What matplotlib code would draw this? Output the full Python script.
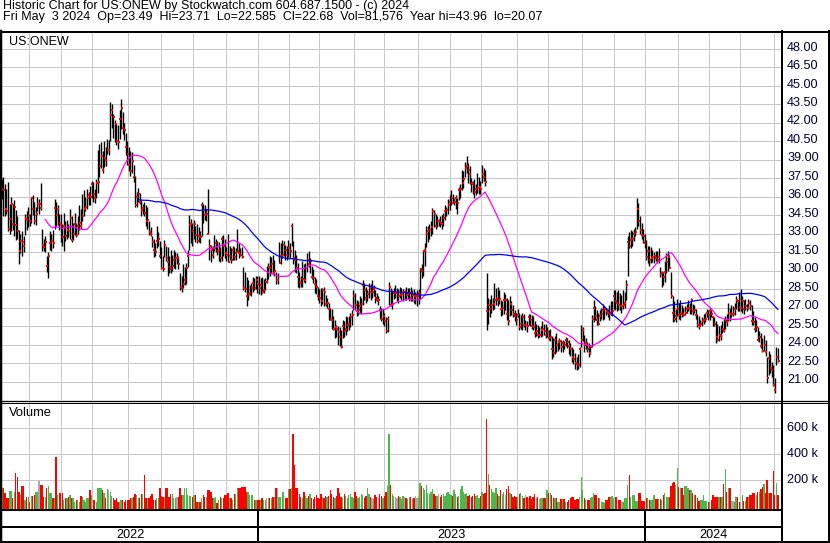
import numpy as np
import pandas as pd
import matplotlib
matplotlib.use("Agg")
import matplotlib.pyplot as plt
from matplotlib.transforms import blended_transform_factory

# ---------------- data ----------------
highs = [
37.6,37.4,37.6,37.0,36.6,37.2,35.4,36.0,35.4,35.7,
34.9,34.4,33.3,33.0,33.2,32.8,34.6,34.8,35.2,34.6,
36.0,36.1,35.6,35.2,36.0,35.8,37.1,33.4,32.6,32.8,
31.2,31.5,33.2,33.0,33.3,35.8,35.6,35.3,34.6,34.6,
33.8,34.7,34.0,34.1,33.8,35.0,34.4,33.9,34.7,33.9,
34.4,35.3,35.0,36.2,36.5,36.0,36.6,36.4,36.9,37.3,
37.2,36.6,37.4,39.8,40.3,40.4,39.7,40.5,40.0,40.7,
40.6,43.7,43.5,42.7,42.2,42.0,41.8,43.0,43.96,42.9,
42.0,41.2,40.5,40.0,39.7,39.6,38.6,37.7,36.4,36.7,
36.3,35.7,35.4,35.6,35.3,35.2,34.0,33.5,32.8,32.6,
32.2,33.6,33.1,32.4,31.9,31.2,32.5,32.0,31.9,31.2,
31.7,31.3,31.7,31.5,31.4,31.2,29.8,29.6,30.5,30.3,
30.6,31.7,34.5,34.2,33.9,34.1,33.6,33.8,33.5,33.2,
35.6,35.4,35.3,35.0,36.6,32.6,32.1,32.0,32.9,32.6,
32.4,32.3,31.9,32.8,32.9,32.6,31.9,33.0,32.0,31.8,
32.0,31.9,31.8,33.4,32.2,31.8,31.9,30.3,29.9,29.5,
29.2,28.8,29.0,29.5,29.4,29.6,29.6,29.6,29.4,29.5,
29.3,29.4,30.4,30.6,31.2,31.1,31.3,30.9,29.9,29.8,
32.3,32.2,32.5,32.4,32.1,32.0,32.5,32.2,33.9,32.4,
31.7,31.3,30.6,29.9,29.6,30.8,30.5,30.6,31.4,31.6,
31.0,30.4,30.1,29.5,29.3,28.7,28.5,28.6,28.6,28.7,
28.0,27.8,27.4,27.0,26.9,26.3,26.0,25.6,25.5,25.4,
25.2,26.0,25.9,26.3,26.2,26.3,26.6,26.8,28.4,28.2,
27.6,27.5,27.9,27.8,29.2,29.0,28.7,28.4,29.0,28.9,
29.2,28.8,28.4,28.2,27.9,27.1,27.0,26.9,26.6,26.2,
26.3,29.1,28.6,28.4,28.6,28.8,28.6,28.5,28.7,28.6,
28.5,28.4,28.7,28.6,28.6,28.7,28.4,28.5,28.3,28.4,
28.5,30.2,30.5,31.7,32.2,33.6,33.6,33.8,34.0,35.1,
34.9,34.6,34.4,34.2,34.4,34.5,34.7,35.3,35.2,35.8,
36.1,36.5,36.2,35.9,36.1,35.9,36.8,37.0,38.2,38.1,
38.8,39.3,38.7,38.5,37.5,37.3,37.4,37.0,37.9,37.6,
37.3,38.6,38.3,38.2,29.8,27.8,27.7,28.0,27.8,29.0,
28.6,28.7,28.4,27.6,27.5,28.3,28.1,27.8,27.6,27.9,
27.5,27.2,26.8,26.6,26.9,26.6,26.4,26.6,26.5,26.0,
25.9,26.5,26.5,26.4,26.3,25.9,25.7,25.6,25.4,25.5,
25.9,25.7,25.7,25.4,25.2,25.3,24.7,24.5,24.7,24.9,
24.4,24.5,24.4,24.4,24.3,24.6,24.5,24.4,24.1,23.8,
23.6,23.3,23.0,23.2,23.8,25.6,25.4,24.8,24.5,24.2,
24.1,24.0,26.4,27.6,27.1,26.8,26.6,26.8,27.0,27.3,
27.1,27.0,26.9,27.2,27.5,27.5,28.4,28.4,28.3,28.4,
28.2,28.0,28.4,28.3,29.2,32.8,33.1,33.3,33.2,33.4,
33.5,35.9,35.5,34.4,33.9,33.4,33.0,32.5,32.0,32.0,
31.9,31.7,31.5,31.6,31.6,31.8,30.3,30.0,29.9,30.8,
31.4,31.6,31.3,29.9,27.9,27.5,26.9,27.7,27.4,27.6,
27.2,27.0,27.1,27.3,27.6,27.4,27.8,27.3,27.2,26.9,
26.5,26.3,26.0,26.2,26.5,26.6,26.9,26.8,27.0,26.8,
26.3,26.2,25.9,25.7,25.5,25.6,25.9,26.1,26.3,26.5,
27.4,27.0,27.2,27.1,27.4,27.9,27.6,28.3,28.5,27.9,
27.6,27.7,27.3,27.7,27.6,27.2,26.7,26.2,26.0,25.4,
25.1,24.9,24.5,24.8,24.4,23.0,23.5,23.2,22.6,22.3,
21.3,23.8,23.71]

lows = [
35.5,35.8,34.4,34.4,34.6,33.2,33.0,33.2,33.3,32.8,
32.5,32.6,30.5,31.4,31.2,31.5,32.9,33.3,33.5,33.6,
33.9,34.5,33.8,33.7,34.8,34.6,34.9,31.6,31.6,31.5,
29.9,29.4,31.7,31.6,31.8,33.4,33.6,33.7,33.3,32.3,
32.0,31.6,32.4,32.6,32.7,32.6,32.3,32.5,32.9,32.7,
33.0,33.3,33.4,34.0,34.4,34.8,35.0,35.3,35.3,35.9,
35.6,35.5,35.9,36.3,37.6,38.3,37.9,38.4,38.5,39.5,
39.4,40.5,41.6,40.8,40.4,40.2,39.9,40.7,41.5,41.1,
40.6,39.4,38.6,38.1,37.7,37.9,37.2,35.2,35.2,35.6,
35.4,34.4,34.6,34.4,33.6,33.4,32.9,32.8,31.9,31.1,
31.2,31.8,32.0,31.0,30.1,30.0,31.1,30.8,29.6,29.8,
29.8,30.0,30.2,30.1,30.5,30.1,28.4,28.3,28.6,28.8,
28.9,30.3,31.7,32.2,32.0,32.6,32.3,32.2,32.3,32.2,
32.8,33.9,34.1,34.0,33.0,30.9,30.7,31.0,31.6,31.5,
31.3,30.8,30.7,30.8,31.2,31.0,30.8,30.7,30.9,30.6,
30.9,30.9,30.9,31.5,31.0,31.2,31.0,28.4,28.3,27.1,
27.6,28.0,27.9,28.3,28.4,28.5,28.2,28.1,28.0,28.2,
28.2,28.4,29.0,29.3,29.6,29.8,29.7,29.6,28.9,28.9,
30.6,30.5,31.0,31.2,30.9,30.9,31.1,31.0,32.0,30.5,
29.9,29.8,28.7,28.6,28.7,28.7,29.1,29.0,29.9,30.3,
29.8,29.3,29.0,28.2,28.1,27.6,27.4,27.1,27.3,27.1,
27.1,27.0,26.0,26.0,25.3,25.2,24.5,24.6,24.0,23.9,
23.7,24.5,24.6,24.8,25.1,25.2,25.4,25.6,26.8,26.9,
26.3,26.4,26.6,26.5,27.2,27.6,27.4,27.5,27.8,27.6,
27.8,27.9,27.4,27.5,27.2,26.1,25.9,25.7,25.5,24.9,
25.0,27.2,27.1,26.9,27.7,27.8,27.5,27.4,27.8,27.6,
27.5,27.6,27.6,27.7,27.5,27.5,27.5,27.4,27.3,27.1,
27.3,27.7,29.4,29.6,30.4,31.9,32.3,32.6,32.8,33.0,
33.5,33.4,33.5,33.6,33.5,33.4,33.6,34.1,34.4,34.6,
34.9,35.3,35.6,35.3,35.0,34.6,35.7,35.9,36.5,36.7,
37.6,37.9,37.1,37.0,36.4,36.2,35.9,36.1,36.3,36.2,
36.2,37.1,37.3,36.9,25.2,25.7,26.2,26.6,26.8,26.9,
27.2,27.1,27.3,26.3,26.4,26.5,26.8,26.0,25.6,26.3,
26.4,26.2,25.9,25.6,26.2,25.2,25.3,25.2,25.4,25.2,
25.0,25.6,25.5,25.3,25.2,24.6,24.7,24.5,24.6,24.6,
24.7,24.8,24.5,24.6,24.4,24.3,22.8,23.0,23.2,23.4,
23.5,23.6,23.4,23.4,23.6,23.9,23.7,23.2,23.1,22.6,
22.4,22.0,21.9,22.0,22.2,23.8,24.3,23.4,23.6,23.4,
23.0,23.2,23.8,25.8,26.0,25.6,25.6,25.9,26.1,26.0,
26.1,26.4,26.2,26.0,26.4,26.3,26.9,26.8,26.7,26.8,
26.8,26.6,26.9,27.0,27.6,29.6,31.8,31.8,32.0,32.4,
32.8,33.4,33.6,33.0,32.6,32.2,31.8,30.9,30.6,30.4,
30.6,30.7,30.6,30.8,30.6,30.6,29.5,28.7,28.8,29.1,
29.8,30.0,30.2,27.8,25.8,25.9,25.8,26.3,26.1,26.0,
26.2,26.3,26.4,26.6,26.7,26.5,26.5,26.4,26.6,26.1,
25.4,25.3,25.6,25.5,25.7,25.8,26.2,26.0,26.0,26.2,
25.5,25.5,24.1,24.3,24.3,24.4,24.9,25.0,25.3,25.5,
25.9,25.9,26.2,26.3,26.4,26.9,26.7,26.7,26.7,26.6,
26.5,26.8,26.7,26.9,26.8,25.6,25.6,25.0,25.1,24.3,
24.2,23.7,23.4,23.5,23.1,20.9,21.5,21.7,21.4,20.6,
20.07,22.3,22.585]

closes = [
36.2,36.6,36.5,35.0,34.8,33.4,34.2,35.4,33.8,35.2,
33.7,33.2,31.6,32.4,32.3,32.0,34.2,34.1,34.4,34.0,
35.9,35.0,34.0,34.6,35.4,35.4,35.1,32.1,31.9,32.3,
30.4,31.2,32.2,32.4,32.2,35.1,34.5,35.0,33.9,33.7,
32.7,33.6,32.8,33.3,33.2,34.3,32.5,33.0,33.8,32.9,
33.6,33.9,33.6,34.4,35.0,35.2,35.9,36.1,36.0,37.0,
36.2,35.9,37.1,37.2,38.5,39.3,38.2,39.1,39.0,39.8,
39.8,42.6,43.0,42.5,41.9,40.5,40.4,42.3,43.2,41.6,
41.4,40.0,39.5,38.6,38.1,38.9,37.6,35.3,36.0,36.2,
35.6,34.9,35.1,34.7,34.0,34.1,33.1,33.0,32.3,31.7,
31.5,32.4,32.6,31.2,30.2,30.1,32.1,31.0,30.7,30.3,
30.1,30.4,30.9,31.0,31.0,30.5,28.7,28.6,28.9,29.2,
30.2,31.2,33.7,33.8,33.2,33.8,32.9,32.4,32.8,32.7,
35.3,34.9,34.5,34.6,33.0,32.0,31.7,31.3,31.8,32.2,
31.6,31.7,31.0,32.6,32.0,31.4,31.3,30.7,31.2,30.9,
31.7,31.1,31.4,31.6,31.4,31.3,31.1,28.6,28.5,27.9,
28.1,28.2,28.6,29.0,28.6,29.2,28.9,28.6,28.8,28.3,
28.4,29.1,29.1,30.3,30.2,30.5,29.8,30.0,29.2,29.2,
30.6,31.2,31.3,32.1,31.7,31.3,31.8,31.6,33.6,31.0,
30.9,30.2,29.5,29.1,29.0,29.3,29.2,30.2,30.9,30.5,
30.8,29.5,29.4,28.9,28.7,27.9,27.8,27.5,28.4,28.3,
27.3,27.4,26.9,26.1,26.0,25.3,25.4,25.3,25.0,24.6,
23.8,25.5,25.1,25.3,25.6,25.7,26.2,26.4,27.9,27.2,
26.7,26.8,27.1,27.3,28.8,28.4,27.8,28.1,28.6,28.3,
28.3,28.5,27.8,27.6,27.6,26.8,26.1,26.3,25.9,25.1,
26.1,28.7,27.2,27.3,28.2,28.2,28.2,27.9,28.0,28.1,
28.3,28.3,28.0,28.1,28.2,27.8,28.0,27.9,27.9,27.9,
28.2,30.1,30.0,31.6,31.7,33.0,33.2,33.3,33.5,34.8,
34.6,33.6,34.0,34.0,33.9,33.8,34.3,34.8,34.9,35.3,
35.6,35.9,35.5,35.6,35.9,35.5,36.5,36.6,37.1,37.4,
38.3,38.5,38.2,37.8,37.1,37.0,36.4,36.6,36.7,36.8,
36.6,37.8,37.6,37.2,26.7,27.2,26.9,27.2,27.3,27.6,
27.7,27.6,27.7,26.9,27.0,27.6,27.6,26.5,25.9,27.3,
26.8,26.5,26.3,26.0,26.4,25.4,25.7,26.2,25.6,25.6,
25.5,26.2,26.0,25.5,25.4,24.9,25.1,24.8,24.8,25.2,
25.3,25.1,24.8,25.0,24.5,24.6,23.6,23.3,24.4,24.0,
24.2,24.3,23.8,24.1,24.0,24.4,24.2,23.9,23.6,23.0,
22.8,22.5,22.4,22.3,23.6,24.4,25.2,24.0,24.1,23.6,
23.3,23.8,26.1,27.0,26.3,26.0,25.7,26.3,26.5,26.8,
26.9,26.7,26.6,26.5,26.6,26.7,27.9,27.5,27.4,27.2,
27.1,27.1,27.2,27.4,28.8,32.3,32.0,32.5,32.6,33.0,
33.1,35.0,34.0,33.3,32.9,32.8,32.2,31.1,31.6,30.9,
31.0,31.1,31.2,31.0,30.9,31.1,29.7,29.8,29.5,29.9,
30.7,31.1,30.2,27.9,26.6,26.1,26.3,26.9,26.4,26.6,
26.5,26.4,26.6,26.9,27.0,26.9,27.6,26.7,26.8,26.4,
25.6,25.5,25.7,25.9,26.0,26.1,26.6,26.4,26.7,26.5,
26.2,25.7,24.6,24.4,24.8,24.7,25.3,25.1,26.0,25.8,
26.6,26.5,26.5,26.5,26.9,27.6,27.5,27.0,27.0,27.5,
26.9,27.1,27.0,27.4,27.1,25.9,25.8,25.3,25.4,24.4,
24.6,23.9,23.5,24.0,23.4,21.3,22.9,22.1,21.9,20.7,
20.3,23.0,22.68]

volumes_k = [
140,140,140,96,58,58,115,115,58,110,
255,224,110,83,150,150,45,70,70,32,
80,80,85,109,109,190,165,165,70,70,
140,155,100,100,58,58,378,83,96,96,
96,45,58,58,70,83,58,58,32,45,
45,32,75,70,45,32,58,58,120,83,
45,45,32,135,140,140,122,100,58,130,
122,110,80,58,45,58,32,32,45,45,
32,45,45,45,58,58,70,93,83,58,
58,90,90,240,58,58,58,78,93,45,
45,58,58,135,80,70,70,135,135,65,
90,90,58,58,65,65,135,83,83,140,
140,83,78,78,70,83,83,32,32,32,
60,83,70,70,125,125,110,58,58,70,
20,45,70,58,58,83,83,103,58,58,
45,90,90,135,135,135,145,145,148,110,
110,83,83,83,45,45,45,45,45,58,
45,45,58,58,58,58,70,70,135,135,
65,65,109,109,58,58,128,128,140,558,
314,135,135,90,70,60,110,80,60,75,
95,60,50,70,85,60,55,90,70,60,
80,65,75,120,90,70,60,80,140,100,
70,60,90,75,60,85,95,70,60,110,
80,60,70,95,85,60,75,140,90,70,
60,55,85,70,65,90,75,60,80,110,
150,558,160,90,80,70,60,75,65,55,
80,70,60,50,70,65,55,60,75,60,
70,180,150,140,120,160,100,90,110,130,
95,80,75,90,70,85,95,80,100,110,
90,85,80,120,95,70,80,130,150,110,
90,100,80,85,70,75,90,80,85,60,
75,110,95,100,673,250,160,130,110,100,
140,90,80,120,95,110,85,130,150,100,
90,70,80,65,70,90,100,75,60,85,
70,60,75,50,65,90,60,70,55,58,
58,58,58,122,96,96,83,58,58,58,
32,32,50,50,50,32,32,45,58,65,
65,45,50,50,65,224,122,60,45,45,
45,58,65,96,83,83,58,58,32,32,
20,45,45,70,70,75,58,70,70,45,
45,32,32,58,60,160,242,70,83,83,
38,38,100,100,38,38,38,58,58,45,
45,45,83,50,50,50,50,45,83,96,
70,70,70,153,177,183,160,296,145,135,
135,83,150,150,140,122,122,96,83,83,
58,40,45,45,83,40,40,32,32,45,
83,70,70,70,70,70,70,170,285,109,
135,135,40,40,32,70,70,32,32,83,
40,40,70,70,86,86,96,96,83,109,
109,130,148,168,96,200,96,102,100,270,
85,180,82]

price_ticks = [21.0, 22.5, 24.0, 25.5, 27.0, 28.5, 30.0, 31.5, 33.0, 34.5,
               36.0, 37.5, 39.0, 40.5, 42.0, 43.5, 45.0, 46.5, 48.0]
volume_ticks_k = [200, 400, 600]
ma_fast, ma_slow = 30, 90

title_line1 = "Historic Chart for US:ONEW by Stockwatch.com 604.687.1500 - (c) 2024"
title_line2 = ("Fri May  3 2024  Op=23.49  Hi=23.71  Lo=22.585  Cl=22.68  "
               "Vol=81,576  Year hi=43.96  lo=20.07")
symbol_label = "US:ONEW"
volume_label = "Volume"

nyse_holidays = ["2022-05-30", "2022-06-20", "2022-07-04", "2022-09-05", "2022-11-24",
                 "2022-12-26", "2023-01-02", "2023-01-16", "2023-02-20", "2023-04-07",
                 "2023-05-29", "2023-06-19", "2023-07-04", "2023-09-04", "2023-11-23",
                 "2023-12-25", "2024-01-01", "2024-01-15", "2024-02-19", "2024-03-29"]

# ---------------- preparation ----------------
n = min(len(highs), len(lows), len(closes), len(volumes_k))
highs, lows, closes, volumes_k = (np.array(a[:n], float) for a in (highs, lows, closes, volumes_k))
idx = np.arange(n)
dates = pd.bdate_range(end="2024-05-03", periods=n, freq="C", holidays=nyse_holidays)
cs = pd.Series(closes)
sma_fast = cs.rolling(ma_fast).mean().values
sma_slow = cs.rolling(ma_slow).mean().values

diff = np.diff(closes, prepend=closes[0])
vcol = np.where(diff > 0, "#4cb84c", np.where(diff < 0, "#ff0000", "#a8a8a8"))

month_start = [i for i in range(1, n) if dates[i].month != dates[i - 1].month]
year_start = [i for i in range(1, n) if dates[i].year != dates[i - 1].year]

# ---------------- figure ----------------
W, H = 830, 543
plt.rcParams["font.family"] = ["Liberation Sans", "DejaVu Sans"]
fig = plt.figure(figsize=(W / 100, H / 100), dpi=100)
fig.patch.set_facecolor("white")

def add_px_axes(x0, y0, x1, y1):
    return fig.add_axes([x0 / W, 1 - y1 / H, (x1 - x0) / W, (y1 - y0) / H])

XL = (1.1, 504.0)
grid_c = "#c8c8c8"
px = 0.72  # one pixel in points
FS_HEAD = 9.0
FS_LAB = 9.1

ax_p = add_px_axes(2, 33, 781, 400)
ax_v = add_px_axes(2, 402, 781, 509.5)
ax_d = add_px_axes(2, 509.5, 781, 541.5)
for a in (ax_p, ax_v, ax_d):
    a.set_xlim(*XL)
    a.set_xticks([]); a.set_yticks([])
    for s in a.spines.values():
        s.set_visible(False)
    a.patch.set_alpha(0)

# price panel
ax_p.set_ylim(19.5, 49.28)
for p in price_ticks:
    ax_p.axhline(p, color=grid_c, lw=px, zorder=0)
for m in month_start:
    ax_p.axvline(m - 0.5, color=grid_c, lw=px, zorder=0)
ax_p.vlines(idx, lows, highs, color="black", lw=1.0, zorder=2)
ax_p.scatter(idx + 0.4, closes, marker="s", s=2.0, color="red", lw=0, zorder=3)
ax_p.plot(idx, sma_fast, color="#ff00ff", lw=0.9, zorder=4)
ax_p.plot(idx, sma_slow, color="#0000ff", lw=0.9, zorder=4)

tr_p = blended_transform_factory(ax_p.transAxes, ax_p.transData)
for p in price_ticks:
    ax_p.text(1 + 6 / 779, p + 0.1, f"{p:.2f}", transform=tr_p, ha="left", va="center",
              fontsize=FS_LAB, color="#000033", clip_on=False)
ax_p.text(7 / 779, 1 - 3 / 367, symbol_label, transform=ax_p.transAxes, ha="left",
          va="top", fontsize=FS_HEAD, color="black")

# volume panel
vb = -28.0
ax_v.set_ylim(vb, 803.5)
for v in volume_ticks_k:
    ax_v.axhline(v, color=grid_c, lw=px, zorder=0)
for m in month_start:
    ax_v.axvline(m - 0.5, color=grid_c, lw=px, zorder=0)
ax_v.bar(idx, volumes_k - vb, bottom=vb, width=0.85, color=vcol, lw=0, zorder=2)
tr_v = blended_transform_factory(ax_v.transAxes, ax_v.transData)
for v in volume_ticks_k:
    ax_v.text(1 + 6 / 779, v, f"{v} k", transform=tr_v, ha="left", va="center",
              fontsize=FS_LAB, color="#000033", clip_on=False)
ax_v.text(7 / 779, 1 - 4.5 / 107.5, volume_label, transform=ax_v.transAxes, ha="left",
          va="top", fontsize=FS_HEAD + 0.3, color="black")

# date strips
ax_d.set_ylim(541.5, 509.5)
ax_d.axhline(526.5, color="black", lw=2 * px)
bounds = [XL[0]] + [y - 0.5 for y in year_start] + [XL[1]]
for b in year_start:
    ax_d.axvline(b - 0.5, color="black", lw=2 * px)
for k in range(len(bounds) - 1):
    yr = dates[0].year + k
    ax_d.text((bounds[k] + bounds[k + 1]) / 2, 534.5, str(yr), ha="center",
              va="center", fontsize=FS_LAB, color="black")

# overlay in pixel coordinates: header and frame
ov = fig.add_axes([0, 0, 1, 1])
ov.set_xlim(0, W); ov.set_ylim(H, 0); ov.axis("off"); ov.patch.set_alpha(0)
ov.text(3, 0.0, title_line1 + "\n" + title_line2, ha="left", va="top",
        fontsize=FS_HEAD, color="black", linespacing=0.93)
lw2 = 2 * px
ov.plot([0, W], [31.5, 31.5], color="black", lw=lw2)
ov.plot([1, 1], [31, 542], color="black", lw=2.5 * px)
ov.plot([0, W], [400.5, 400.5], color="black", lw=1.3 * px)
ov.plot([0, W], [402.5, 402.5], color="black", lw=1.0 * px)
ov.plot([0, 781], [509.5, 509.5], color="black", lw=lw2)
ov.plot([0, W], [541.5, 541.5], color="black", lw=lw2)
ov.plot([781.5, 781.5], [31, 542], color="black", lw=lw2)
ov.plot([828.5, 828.5], [31, 542], color="black", lw=lw2)

fig.savefig("out.png", dpi=100, facecolor="white")
